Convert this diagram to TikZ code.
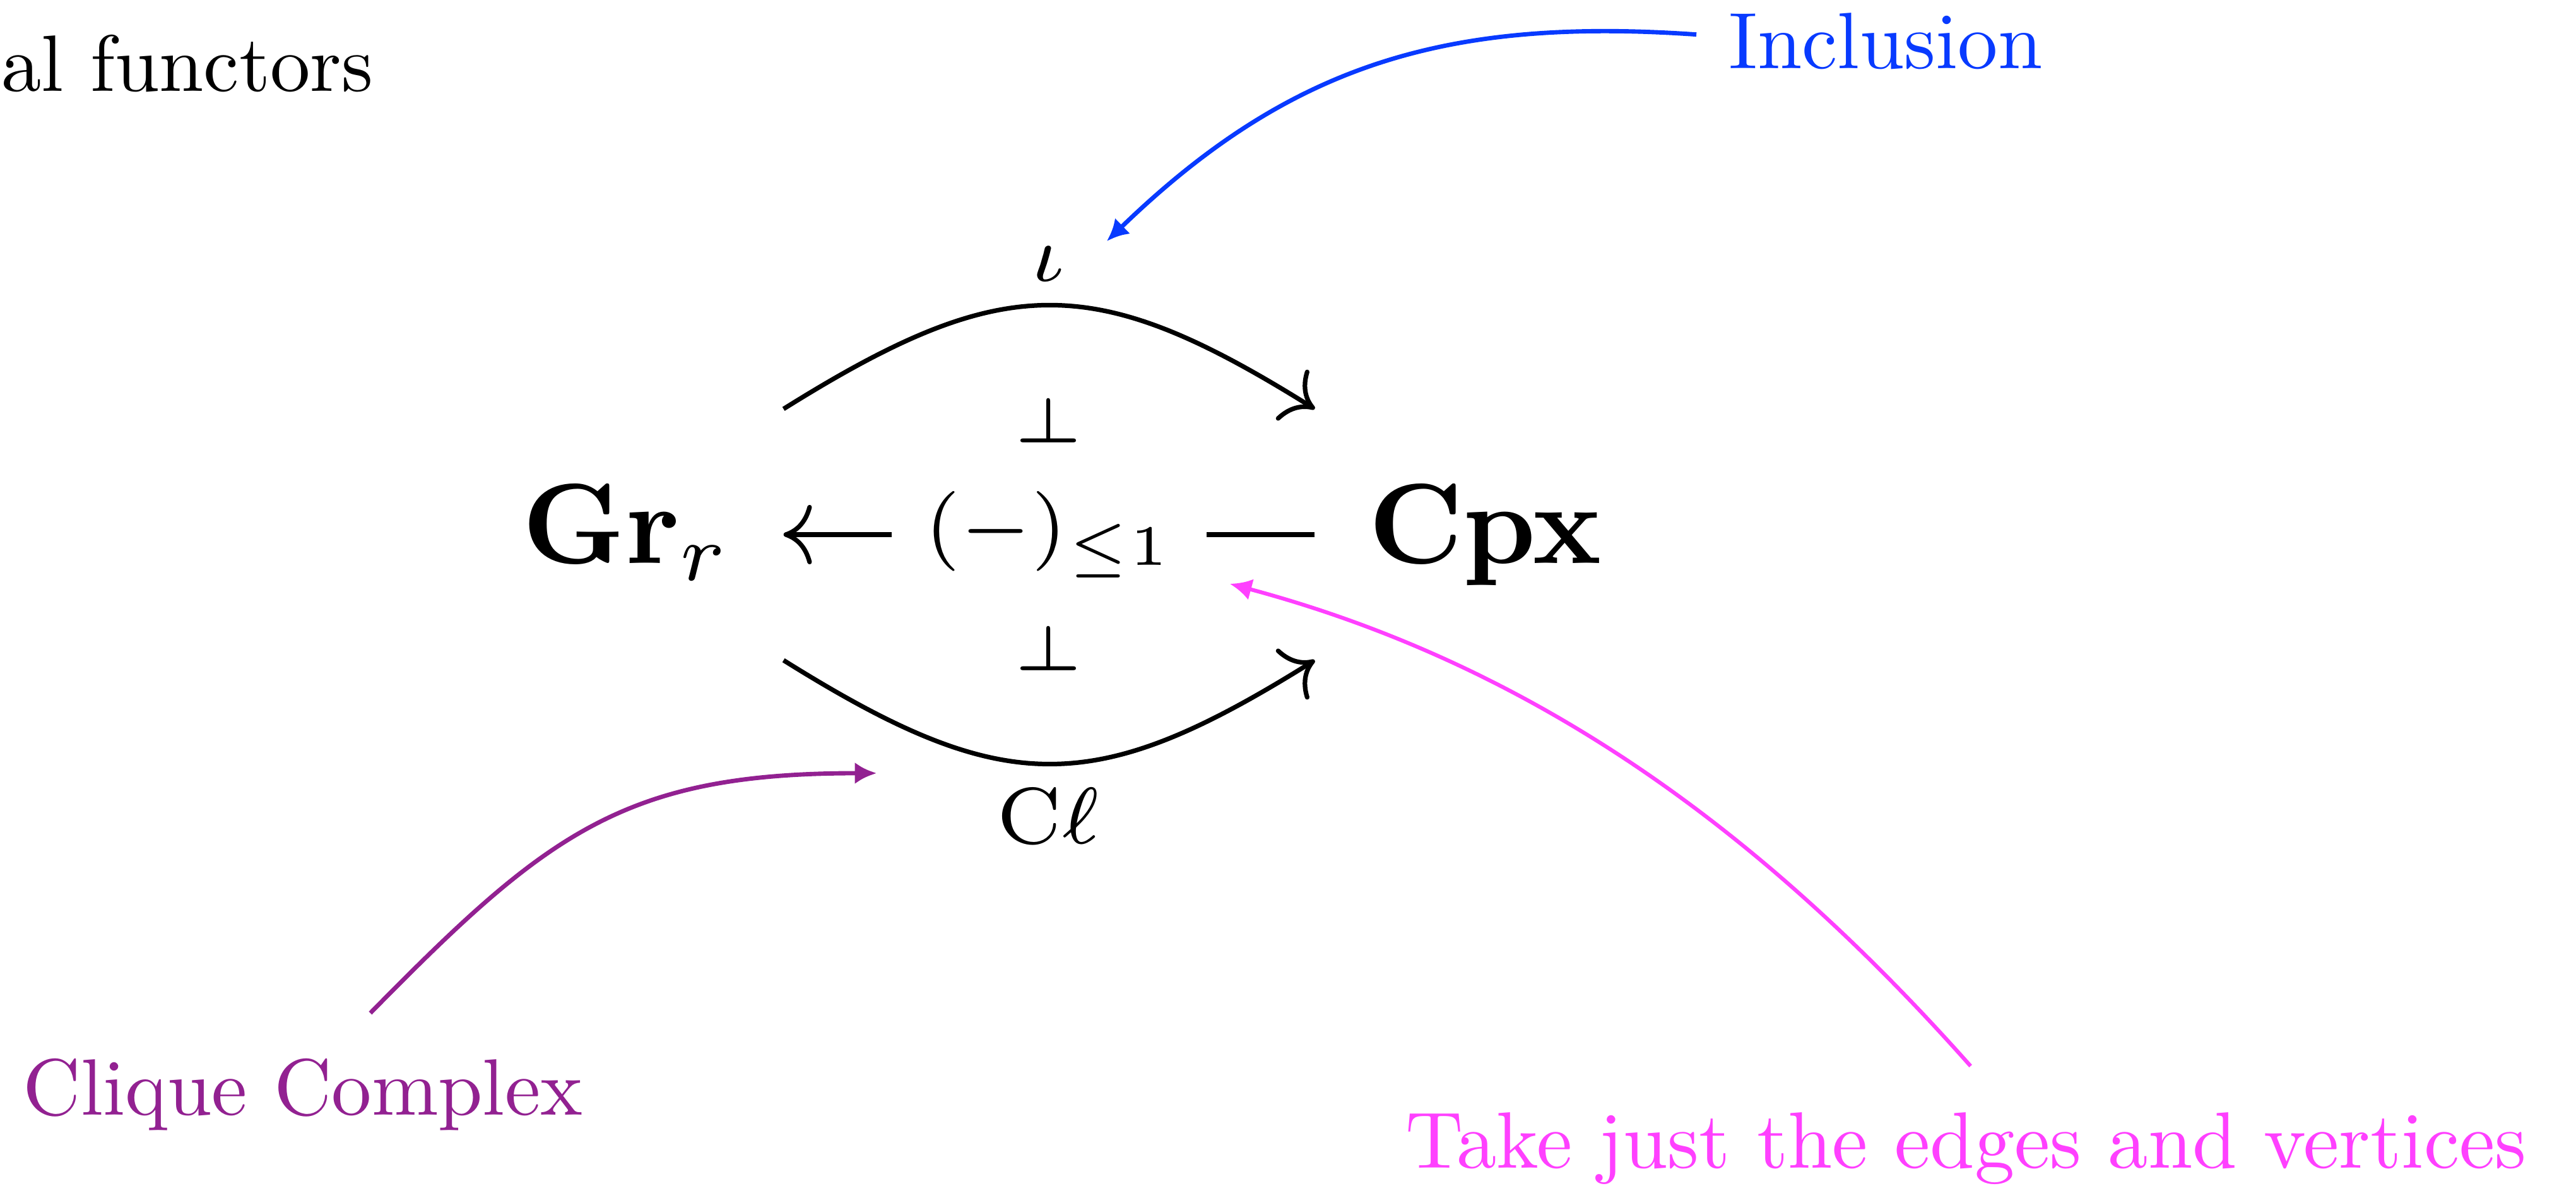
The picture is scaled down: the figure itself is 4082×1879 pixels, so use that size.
\documentclass[tikz,border=0pt]{standalone}
\usetikzlibrary{arrows.meta}
\definecolor{incblue}{RGB}{8,58,255}
\definecolor{clqpurple}{RGB}{146,33,145}
\definecolor{edgepink}{RGB}{255,64,255}
\tikzset{
  mainobj/.style={inner sep=0pt, text height=5pt, text depth=0pt},
  lbl/.style={inner sep=0pt},
  note/.style={inner sep=0pt, anchor=base west, font=\normalsize, scale=0.7},
  cdarr/.style={line width=0.4pt, -{Computer Modern Rightarrow}},
  callout/.style={line width=0.38pt, -{Latex[length=1.9pt,width=1.9pt]}},
}
\begin{document}
\begin{tikzpicture}[x=0.05525pt,y=-0.05525pt]
\useasboundingbox (0,0) rectangle (4082,1879);

% annotations
\node[note] (alfun) at (0,145) {al functors};
\node[note, text=incblue] (incl) at (2737,109) {Inclusion};
\node[note, text=clqpurple] (clique) at (34,1767) {Clique Complex};
\node[note, text=edgepink] (take) at (2225,1851) {Take just the edges and vertices};

% main objects
\node[mainobj, minimum width=27.13pt] (grr) at (992.5,847) {$\mathbf{Gr}_r$};
\node[mainobj, minimum width=29.45pt] (cpx) at (2353.5,847) {$\mathbf{Cpx}$};

% labels
\node[lbl] (iota) at (1661,418) {$\scriptstyle\iota$};
\node[lbl, rotate=-90] (perpT) at (1661,666) {$\scriptstyle\dashv$};
\node[lbl, rotate=-90] (perpB) at (1661,1027) {$\scriptstyle\dashv$};
\node[lbl, anchor=base] (cl) at (1661,1337) {$\scriptstyle \mathrm{C}\ell$};

% arrows of the adjunction diagram
\draw[cdarr] ([yshift=11pt]grr.east) .. controls +(32:22.8pt) and +(148:22.8pt) .. ([yshift=11pt]cpx.west);
\draw[cdarr] ([yshift=-11pt]grr.east) .. controls +(-32:22.8pt) and +(212:22.8pt) .. ([yshift=-11pt]cpx.west);
\draw[cdarr] (cpx.west) -- node[fill=white, inner xsep=2.9pt, inner ysep=1pt] (trunc) {$\scriptstyle (-)_{\leq 1}$} (grr.east);

% callout targets
\coordinate (iotaTarget) at (1754,382);
\coordinate (clTarget) at (1389,1225);
\coordinate (edgeTarget) at (1949,925);

% callout arrows
\draw[callout, incblue] ([shift={(-2.7pt,3.0pt)}]incl.base west) .. controls +(176:22.1pt) and +(44:22.1pt) .. (iotaTarget);
\draw[callout, clqpurple] ([shift={(30.55pt,8.95pt)}]clique.base west) .. controls +(45.5:22.1pt) and +(180:22.1pt) .. (clTarget);
\draw[callout, edgepink, line width=0.34pt] ([shift={(49.6pt,8.95pt)}]take.base west) .. controls +(131.6:27.6pt) and +(-15:27.6pt) .. (edgeTarget);
\end{tikzpicture}
\end{document}
